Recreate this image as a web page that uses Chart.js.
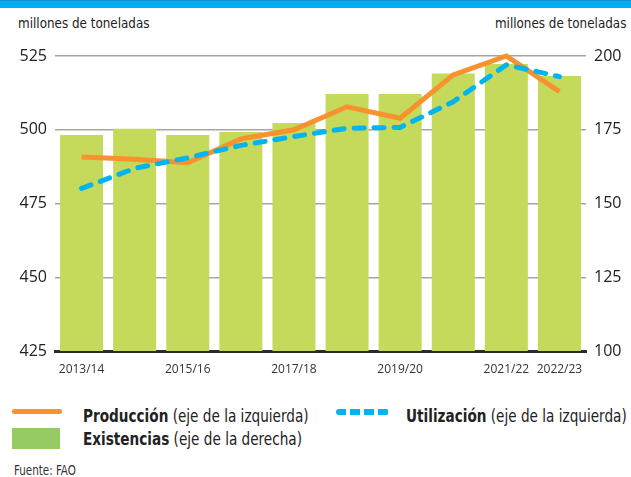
<!DOCTYPE html>
<html>
<head>
<meta charset="utf-8">
<script src="https://cdn.jsdelivr.net/npm/chart.js@4.4.1/dist/chart.umd.min.js"></script>
<style>
  html, body { margin: 0; padding: 0; background: #fff; }
  body { width: 631px; height: 477px; position: relative; overflow: hidden;
         font-family: 'DejaVu Sans Condensed', sans-serif; color: #222; }
  .topbar { position: absolute; left: 0; top: 0; width: 631px; height: 7px; background: #00aeef;
            border-top: 1px solid #1790c8; }
  .unit { position: absolute; top: 15px; font-size: 14px; line-height: 16px; color: #222; white-space: nowrap;
          transform: scaleX(0.95); transform-origin: left center; }
  .unit.r { transform-origin: right center; }
  #chartBox { position: absolute; left: 0; top: 0; width: 631px; height: 380px; }
  .leg { position: absolute; font-size: 17px; line-height: 20px; white-space: nowrap; color: #222;
         transform: scaleX(0.89); transform-origin: left center; }
  .leg b { font-weight: bold; }
  .swatch { position: absolute; }
  .src { position: absolute; left: 14px; top: 462px; font-size: 14px; line-height: 16px; color: #333; white-space: nowrap;
         transform: scaleX(0.82); transform-origin: left center; }
</style>
</head>
<body>
<div class="topbar"></div>
<div class="unit" style="left:18px">millones de toneladas</div>
<div class="unit r" style="right:5px">millones de toneladas</div>
<div id="chartBox"><canvas id="chart"></canvas></div>

<div class="swatch" style="left:12px;top:409px;width:50px;height:5px;border-radius:3px;background:#f7922e"></div>
<div class="leg" style="left:83px;top:406px"><b>Producción</b> (eje de la izquierda)</div>
<div class="swatch" style="left:336px;top:409px;width:53px;height:6px;background:repeating-linear-gradient(90deg,#00b5ef 0 10px,transparent 10px 14px);border-radius:3px"></div>
<div class="leg" style="left:406px;top:406px"><b>Utilización</b> (eje de la izquierda)</div>
<div class="swatch" style="left:12px;top:428px;width:48px;height:21px;background:#96cb64"></div>
<div class="leg" style="left:83px;top:429px"><b>Existencias</b> (eje de la derecha)</div>
<div class="src">Fuente: FAO</div>

<script>
// Campaigns
const categories = ['2013/14', '2014/15', '2015/16', '2016/17', '2017/18',
  '2018/19', '2019/20', '2020/21', '2021/22', '2022/23'];
const shownLabels = ['2013/14', '2015/16', '2017/18', '2019/20', '2021/22', '2022/23'];

// Series (millones de toneladas)
const produccion = [490.8, 490, 488.8, 496.9, 500, 507.8, 503.9, 518.6, 525, 512.9];
const utilizacion = [480.1, 486.9, 490.5, 494.7, 497.7, 500.5, 500.8, 509.5, 522, 518];
const existencias = [173.2, 175.3, 173.2, 174.2, 177.3, 187.1, 187.1, 194.1, 197.3, 193.2];

// Axis ticks
const leftTicks = [425, 450, 475, 500, 525];
const rightTicks = [100, 125, 150, 175, 200];

const numFont = { family: "'Open Sans', sans-serif", size: 16 };

const ctx = document.getElementById('chart').getContext('2d');
new Chart(ctx, {
  data: {
    labels: categories,
    datasets: [
      {
        type: 'line',
        label: 'Utilización',
        data: utilizacion,
        yAxisID: 'y',
        borderColor: '#00b5ef',
        borderWidth: 5,
        borderDash: [10, 10],
        borderCapStyle: 'round',
        pointRadius: 0,
        tension: 0,
        clip: false,
        order: 1
      },
      {
        type: 'line',
        label: 'Producción',
        data: produccion,
        yAxisID: 'y',
        borderColor: '#f7922e',
        borderWidth: 5,
        pointRadius: 0,
        tension: 0,
        clip: false,
        order: 2
      },
      {
        type: 'bar',
        label: 'Existencias',
        data: existencias,
        yAxisID: 'y1',
        backgroundColor: '#c5d95a',
        categoryPercentage: 1,
        barPercentage: 0.81,
        order: 3
      }
    ]
  },
  options: {
    responsive: true,
    maintainAspectRatio: false,
    animation: false,
    layout: { padding: { top: 56, left: 0, right: 0, bottom: 0 } },
    plugins: { legend: { display: false }, tooltip: { enabled: false } },
    scales: {
      x: {
        grid: { display: false },
        border: { display: true, color: '#2b2b2b', width: 3 },
        ticks: {
          autoSkip: false,
          maxRotation: 0,
          padding: 3,
          color: '#333',
          font: { family: "'Open Sans', sans-serif", size: 12 },
          callback: (v, i) => shownLabels.includes(categories[i]) ? categories[i] : ''
        },
        afterFit: s => { s.height = 29; }
      },
      y: {
        position: 'left',
        min: leftTicks[0],
        max: leftTicks[leftTicks.length - 1],
        afterBuildTicks: s => { s.ticks = leftTicks.map(v => ({ value: v })); },
        grid: { color: '#a6a6a6', lineWidth: 1.5, drawTicks: false },
        border: { display: false },
        ticks: { padding: 8, color: '#222', font: numFont },
        afterFit: s => { s.width = 55; }
      },
      y1: {
        position: 'right',
        min: rightTicks[0],
        max: rightTicks[rightTicks.length - 1],
        afterBuildTicks: s => { s.ticks = rightTicks.map(v => ({ value: v })); },
        grid: { display: false, drawTicks: false },
        border: { display: false },
        ticks: { padding: 8, color: '#222', font: numFont },
        afterFit: s => { s.width = 45; }
      }
    }
  }
});
</script>
</body>
</html>
